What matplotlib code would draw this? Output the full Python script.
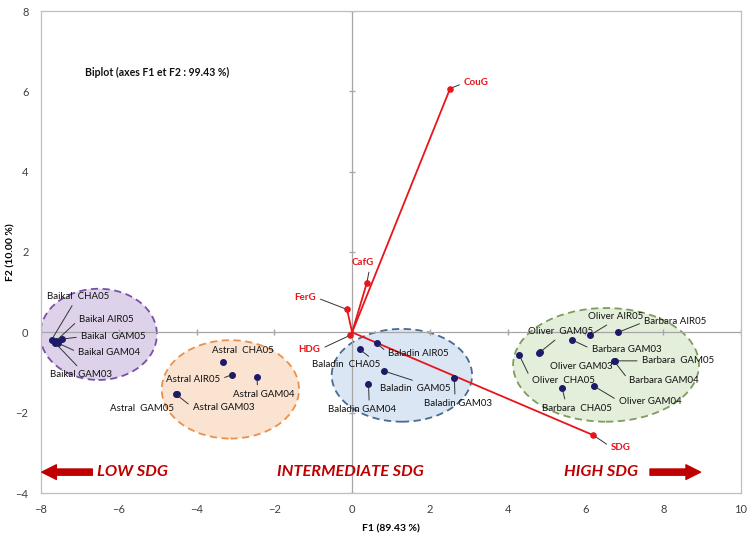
import matplotlib
matplotlib.use('Agg')
import matplotlib.pyplot as plt
from matplotlib.patches import Ellipse
import numpy as np

plt.rcParams['font.family'] = ['Lato', 'DejaVu Sans']

# ---------------- data ----------------
obs_names = ['Baikal  CHA05', 'Baikal AIR05', 'Baikal  GAM05', 'Baikal GAM04', 'Baikal GAM03',
             'Astral  CHA05', 'Astral AIR05', 'Astral GAM04', 'Astral GAM03', 'Astral  GAM05',
             'Baladin  CHA05', 'Baladin AIR05', 'Baladin  GAM05', 'Baladin GAM04', 'Baladin GAM03',
             'Oliver AIR05', 'Barbara AIR05', 'Oliver  GAM05', 'Barbara GAM03', 'Barbara  GAM05',
             'Oliver GAM03', 'Barbara GAM04', 'Oliver  CHA05', 'Oliver GAM04', 'Barbara  CHA05']
obs_f1 = [-7.73, -7.62, -7.47, -7.56, -7.64,
          -3.31, -3.08, -2.44, -4.53, -4.49,
          0.19, 0.63, 0.81, 0.42, 2.63,
          6.12, 6.84, 4.81, 5.66, 6.76,
          4.83, 6.74, 4.30, 6.22, 5.40]
obs_f2 = [-0.19, -0.22, -0.17, -0.27, -0.26,
          -0.73, -1.05, -1.11, -1.54, -1.54,
          -0.42, -0.27, -0.96, -1.28, -1.14,
          -0.07, 0.00, -0.51, -0.19, -0.71,
          -0.50, -0.72, -0.57, -1.34, -1.39]

var_names = ['CouG', 'CafG', 'FerG', 'HDG', 'SDG']
var_f1 = [2.52, 0.375, -0.13, -0.055, 6.20]
var_f2 = [6.07, 1.22, 0.57, -0.075, -2.56]

x_ticks = [-8, -6, -4, -2, 0, 2, 4, 6, 8, 10]
y_ticks = [-4, -2, 0, 2, 4, 6, 8]

title = 'Biplot (axes F1 et F2 : 99.43 %)'
x_label = 'F1 (89.43 %)'
y_label = 'F2 (10.00 %)'
zone_labels = ['LOW SDG', 'INTERMEDIATE SDG', 'HIGH SDG']

# ---------------- layout (label positions, group ellipses) ----------------
# name -> (text x, text y, relpos of leader on text or None)
obs_label_pos = {
    'Baikal  CHA05': (-7.85, 0.89, (0.45, 0)),
    'Baikal AIR05': (-7.02, 0.32, (0, 0.5)),
    'Baikal  GAM05': (-6.97, -0.11, (0, 0.5)),
    'Baikal GAM04': (-7.04, -0.50, (0, 0.5)),
    'Baikal GAM03': (-7.77, -1.05, (0.5, 1)),
    'Astral  CHA05': (-3.61, -0.44, None),
    'Astral AIR05': (-4.79, -1.17, (1, 0.5)),
    'Astral GAM04': (-3.07, -1.54, (0.4, 1)),
    'Astral GAM03': (-4.10, -1.87, (0, 0.5)),
    'Astral  GAM05': (-6.23, -1.89, None),
    'Baladin  CHA05': (-1.02, -0.81, (0.9, 1)),
    'Baladin AIR05': (0.93, -0.52, (0, 0.5)),
    'Baladin  GAM05': (0.73, -1.39, (0.6, 1)),
    'Baladin GAM04': (-0.61, -1.92, (0.6, 1)),
    'Baladin GAM03': (1.86, -1.77, (0.45, 1)),
    'Oliver AIR05': (6.07, 0.39, (0.45, 0)),
    'Barbara AIR05': (7.51, 0.26, (0, 0.5)),
    'Oliver  GAM05': (4.51, 0.02, (0.5, 0)),
    'Barbara GAM03': (6.16, -0.42, (0, 0.5)),
    'Barbara  GAM05': (7.45, -0.71, (0, 0.5)),
    'Oliver GAM03': (5.09, -0.86, None),
    'Barbara GAM04': (7.13, -1.21, (0, 0.5)),
    'Oliver  CHA05': (4.62, -1.21, (0, 0.5)),
    'Oliver GAM04': (6.86, -1.71, (0, 0.5)),
    'Barbara  CHA05': (4.87, -1.89, (0.35, 1)),
}
var_label_pos = {
    'CouG': (2.88, 6.21, (0, 0.5)),
    'CafG': (0.0, 1.73, (0.8, 0)),
    'FerG': (-1.49, 0.87, (1, 0.5)),
    'HDG': (-1.38, -0.42, (1, 0.5)),
    'SDG': (6.66, -2.86, (0, 0.5)),
}
# (center x, center y, width, height, face, edge)
groups = [
    (-6.52, -0.05, 3.00, 2.27, '#ddd2ea', '#7a4fa8'),
    (-3.13, -1.42, 3.53, 2.45, '#fbe3d2', '#e8914f'),
    (1.28, -1.07, 3.61, 2.31, '#dbe6f4', '#4a6a90'),
    (6.53, -0.81, 4.78, 2.83, '#e4efdb', '#7f9c5c'),
]

RED = '#e8151b'
DARKRED = '#c00000'
NAVY = '#1b1b6a'
GRID = '#a6a6a6'

fig = plt.figure(figsize=(7.52, 5.35), dpi=100)
ax = fig.add_axes([41 / 752, 1 - 493 / 535, 700 / 752, 482 / 535])
ax.set_xlim(x_ticks[0], x_ticks[-1])
ax.set_ylim(y_ticks[0], y_ticks[-1])
ax.set_xticks(x_ticks)
ax.set_yticks(y_ticks)
ax.tick_params(length=0, labelsize=8, colors='#404040')
ax.tick_params(axis='x', pad=8)
ax.tick_params(axis='y', pad=9)
for s in ax.spines.values():
    s.set_color('#bfbfbf')
    s.set_linewidth(0.9)

for cx, cy, w, h, fc, ec in groups:
    ax.add_patch(Ellipse((cx, cy), w, h, facecolor=fc, edgecolor=ec,
                         linestyle=(0, (4, 2.5)), linewidth=1.3, zorder=1))

# zero lines with tick marks
ax.axhline(0, color=GRID, lw=0.9, zorder=2)
ax.axvline(0, color=GRID, lw=0.9, zorder=2)
ax.plot(x_ticks, np.zeros(len(x_ticks)), linestyle='none', marker='|', ms=5, color=GRID, zorder=2)
ax.plot(np.zeros(len(y_ticks)), y_ticks, linestyle='none', marker='_', ms=5, color=GRID, zorder=2)

# variable vectors
for name, fx, fy in zip(var_names, var_f1, var_f2):
    ax.plot([0, fx], [0, fy], color=RED, lw=1.3, zorder=4)
ax.scatter(var_f1, var_f2, s=14, color=RED, zorder=5)

# observations
ax.scatter(obs_f1, obs_f2, s=16, color=NAVY, zorder=6)

def label(name, px, py, pos, color, weight, size=7):
    tx, ty, rel = pos
    if rel is None:
        ax.text(tx, ty, name, ha='left', va='center', fontsize=size, color=color,
                fontweight=weight, zorder=7)
    else:
        ax.annotate(name, xy=(px, py), xytext=(tx, ty), ha='left', va='center',
                    fontsize=size, color=color, fontweight=weight, zorder=7,
                    arrowprops=dict(arrowstyle='-', color='#333333', lw=0.7,
                                    shrinkA=1.5, shrinkB=2, relpos=rel))

for name, fx, fy in zip(obs_names, obs_f1, obs_f2):
    label(name, fx, fy, obs_label_pos[name], '#111111', 'normal')
for name, fx, fy in zip(var_names, var_f1, var_f2):
    label(name, fx, fy, var_label_pos[name], RED, 'bold', 7)

ax.text(-6.87, 6.48, title, ha='left', va='center', fontsize=7.6, fontweight='bold', color='#111111')
ax.set_xlabel(x_label, fontsize=7.5, fontweight='bold')
ax.set_ylabel(y_label, fontsize=7.5, fontweight='bold')
ax.xaxis.set_label_coords(0.5, -31 / 482)
ax.yaxis.set_label_coords(-26 / 700, 0.5)

# bottom arrows and zone labels
arrow_y = -3.48
aprops = dict(arrowstyle='simple,head_width=0.75,head_length=0.75,tail_width=0.32',
              color=DARKRED, mutation_scale=14, shrinkA=0, shrinkB=0)
ax.annotate('', xy=(-7.98, arrow_y), xytext=(-6.68, arrow_y), arrowprops=aprops)
ax.annotate('', xy=(8.96, arrow_y), xytext=(7.66, arrow_y), arrowprops=aprops)
for lbl, lx in zip(zone_labels, [-6.56, -1.94, 5.44]):
    ax.text(lx, arrow_y, lbl, ha='left', va='center', fontsize=11.8,
            fontweight='bold', fontstyle='italic', color=DARKRED)

fig.savefig('out.png', dpi=100)
